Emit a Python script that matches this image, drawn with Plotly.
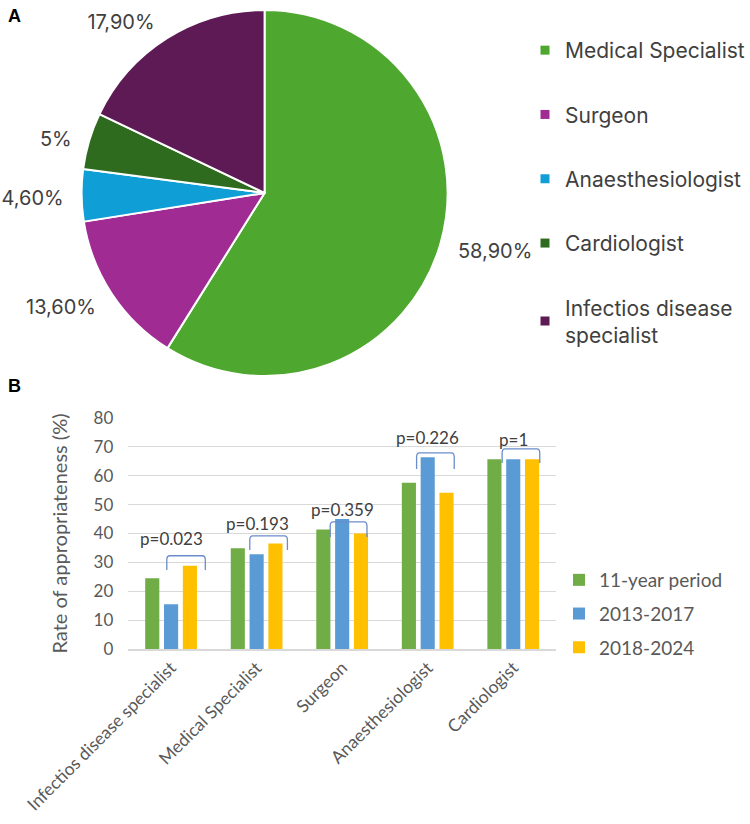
import plotly.graph_objects as go

# ---------------- data ----------------
pie_labels = ["Medical Specialist", "Surgeon", "Anaesthesiologist", "Cardiologist",
              "Infectios disease specialist"]
pie_values = [58.9, 13.6, 4.6, 5.0, 17.9]
pie_text = ["58,90%", "13,60%", "4,60%", "5%", "17,90%"]
pie_legend_text = ["Medical Specialist", "Surgeon", "Anaesthesiologist", "Cardiologist",
                   "Infectios disease<br>specialist"]
pie_colors = ["#4EA72E", "#A02B93", "#0F9ED5", "#2E6B1E", "#5E1A55"]

bar_categories = ["Infectios disease specialist", "Medical Specialist", "Surgeon",
                  "Anaesthesiologist", "Cardiologist"]
series_names = ["11-year period", "2013-2017", "2018-2024"]
series_11yr = [24.5, 34.9, 41.4, 57.6, 65.7]
series_2013 = [15.5, 32.8, 45.0, 66.4, 65.7]
series_2018 = [28.8, 36.5, 40.0, 54.1, 65.7]
bar_colors = ["#70AD47", "#5B9BD5", "#FFC000"]

p_labels = ["p=0.023", "p=0.193", "p=0.359", "p=0.226", "p=1"]
bracket_left = [-0.05, 0.92, 1.86, 2.87, 3.87]
bracket_right = [0.40, 1.36, 2.29, 3.31, 4.31]
bracket_top = [32.3, 39.2, 44.0, 67.9, 69.3]
bracket_bottom = [27.4, 34.3, 38.8, 62.3, 64.4]
p_label_x = [0.0, 1.01, 2.0, 3.0, 4.0]
p_label_y = [38.3, 43.5, 48.4, 73.3, 72.6]

# ---------------- figure ----------------
W, H = 750, 824
PIE_FONT = "Inter"
BAR_FONT = "Lato"

fig = go.Figure()

# visible pie (no text)
fig.add_trace(go.Pie(
    labels=pie_labels, values=pie_values,
    textinfo="none",
    marker=dict(colors=pie_colors, line=dict(color="white", width=2)),
    sort=False, direction="clockwise", rotation=0,
    showlegend=False, automargin=False,
    domain=dict(x=[82 / W, 450 / W], y=[1 - 377 / H, 1 - 9 / H]),
    hoverinfo="label+percent",
))
# transparent, slightly larger copy that carries the outside percentage labels
fig.add_trace(go.Pie(
    labels=pie_labels, values=pie_values, text=pie_text,
    textinfo="text", textposition="outside",
    textfont=dict(family=PIE_FONT, size=20, color="#404040"),
    marker=dict(colors=["rgba(0,0,0,0)"] * len(pie_values), line=dict(width=0)),
    sort=False, direction="clockwise", rotation=0,
    showlegend=False, automargin=False,
    domain=dict(x=[70 / W, 462 / W], y=[1 - 392 / H, 1]),
    hoverinfo="skip",
))

# legend entries for the pie
for name, col in zip(pie_legend_text, pie_colors):
    fig.add_trace(go.Scatter(
        x=[None], y=[None], mode="markers", name=name,
        marker=dict(symbol="square", size=9, color=col),
        legend="legend", legendgroup=name, showlegend=True,
    ))

xpos = list(range(len(bar_categories)))
for name, vals, col in zip(series_names, [series_11yr, series_2013, series_2018], bar_colors):
    fig.add_trace(go.Bar(
        x=xpos, y=vals, name=name, marker=dict(color=col, line=dict(width=0)),
        legend="legend2", legendgroup=name,
    ))

# brackets
BR = "#6A8CCB"
for xl, xr, yt, yb in zip(bracket_left, bracket_right, bracket_top, bracket_bottom):
    dx, dy = 0.035, 1.4
    path = (f"M {xl},{yb} L {xl},{yt - dy} Q {xl},{yt} {xl + dx},{yt} "
            f"L {xr - dx},{yt} Q {xr},{yt} {xr},{yt - dy} L {xr},{yb}")
    fig.add_shape(type="path", path=path, xref="x", yref="y",
                  line=dict(color=BR, width=1.3))

for t, x, y in zip(p_labels, p_label_x, p_label_y):
    fig.add_annotation(x=x, y=y, xref="x", yref="y", text=t, showarrow=False,
                       font=dict(family=BAR_FONT, size=17, color="#404040"))

# panel letters
fig.add_annotation(x=6 / W, y=1 - 4 / H, xref="paper", yref="paper", text="<b>A</b>",
                   showarrow=False, xanchor="left", yanchor="top",
                   font=dict(family="Liberation Sans", size=18, color="black"))
fig.add_annotation(x=6 / W, y=1 - 374 / H, xref="paper", yref="paper", text="<b>B</b>",
                   showarrow=False, xanchor="left", yanchor="top",
                   font=dict(family="Liberation Sans", size=18, color="black"))

fig.update_layout(
    width=W, height=H, margin=dict(l=0, r=0, t=0, b=0),
    paper_bgcolor="white", plot_bgcolor="white",
    barmode="group", bargap=0.34, bargroupgap=0.25,
    xaxis=dict(domain=[129 / W, 559 / W], range=[-0.5, 4.5], automargin=False,
               tickvals=xpos, ticktext=bar_categories, tickangle=-45,
               tickfont=dict(family=BAR_FONT, size=17.5, color="#595959"),
               showgrid=False, zeroline=False, showline=True,
               linecolor="#D9D9D9", linewidth=1.5, ticks=""),
    yaxis=dict(domain=[1 - 649 / H, 1 - 418 / H], range=[0, 80], dtick=10, automargin=False,
               tickfont=dict(family=BAR_FONT, size=17, color="#595959"),
               gridcolor="#D9D9D9", gridwidth=1.2, zeroline=False, showline=False,
               ticks="", ticklabelstandoff=14,
               title=dict(text="Rate of appropriateness (%)", standoff=20,
                          font=dict(family=BAR_FONT, size=20, color="#595959"))),
    legend=dict(x=528 / W, y=1 - 30 / H, xanchor="left", yanchor="top",
                font=dict(family=PIE_FONT, size=21, color="#404040"),
                tracegroupgap=34, bgcolor="rgba(0,0,0,0)", itemclick=False),
    legend2=dict(x=562 / W, y=1 - 561 / H, xanchor="left", yanchor="top",
                 font=dict(family=BAR_FONT, size=19, color="#595959"),
                 tracegroupgap=6, bgcolor="rgba(0,0,0,0)"),
    showlegend=True,
)

fig.write_html("out.html")
